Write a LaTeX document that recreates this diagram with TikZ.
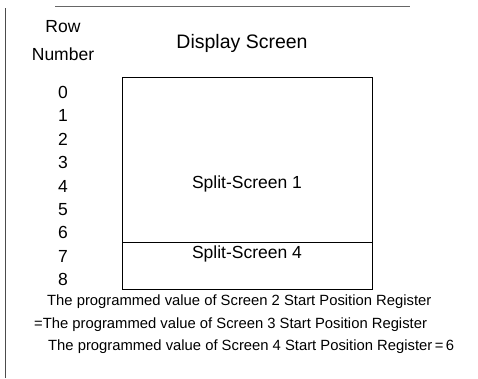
\documentclass[tikz,border=0pt]{standalone}
\usepackage{fontspec}
\setmainfont{Liberation Sans}
\usetikzlibrary{positioning}

\begin{document}
\begin{tikzpicture}[x=1pt, y=-1pt]
			\tikzset {label/.style={font=\fontsize{17.5}{19}\selectfont, inner sep=0pt}, rownum/.style={label, anchor=center}, note/.style={font=\fontsize{14.8}{16}\selectfont, inner sep=0pt, anchor=west}, node distance=23.4pt}
			\useasboundingbox (0,0) rectangle (478,378);
			
			% frame of the page
			\coordinate (ftl) at (5,8);
			\coordinate (fbl) at (5,378);
			\coordinate (ftr) at (410,6);
			\draw[line width=0.8pt, black!70] (fbl) -- (ftl);
			\draw[line width=0.6pt, black!60] (55,6) -- (ftr);
			
			\node[label] (row) at (63,27) {Row};
			\node[label] (number) at (63,54) {Number};
			\node[label, font=\fontsize{19.5}{21}\selectfont] (title) at (242,43) {Display Screen};
			
			\node[rownum] (r0) at (63,92.5) {0};
			\node[rownum, below=of r0.center, anchor=center] (r1) {1};
			\node[rownum, below=of r1.center, anchor=center] (r2) {2};
			\node[rownum, below=of r2.center, anchor=center] (r3) {3};
			\node[rownum, below=of r3.center, anchor=center] (r4) {4};
			\node[rownum, below=of r4.center, anchor=center] (r5) {5};
			\node[rownum, below=of r5.center, anchor=center] (r6) {6};
			\node[rownum, below=of r6.center, anchor=center] (r7) {7};
			\node[rownum, below=of r7.center, anchor=center] (r8) {8};
			
			% screen
			\coordinate (stl) at (122,77);
			\coordinate (sbr) at (372,289);
			\coordinate (sdl) at (122,242);
			\coordinate (sdr) at (372,242);
			\draw[line width=0.9pt] (stl) rectangle (sbr);
			\draw[line width=0.9pt] (sdl) -- (sdr);
			\node[label] (split1) at (247,184) {Split-Screen 1};
			\node[label] (split4) at (247,254) {Split-Screen 4};
			
			\node[note] (line1) at (47,302) {The programmed value of Screen 2 Start Position Register};
			\node[note] (line2) at (34,325) {=The programmed value of Screen 3 Start Position Register};
			\node[note] (line3) at (48,347) {The programmed value of Screen 4 Start Position Register\,=\,6};
		\end{tikzpicture}
\end{document}
